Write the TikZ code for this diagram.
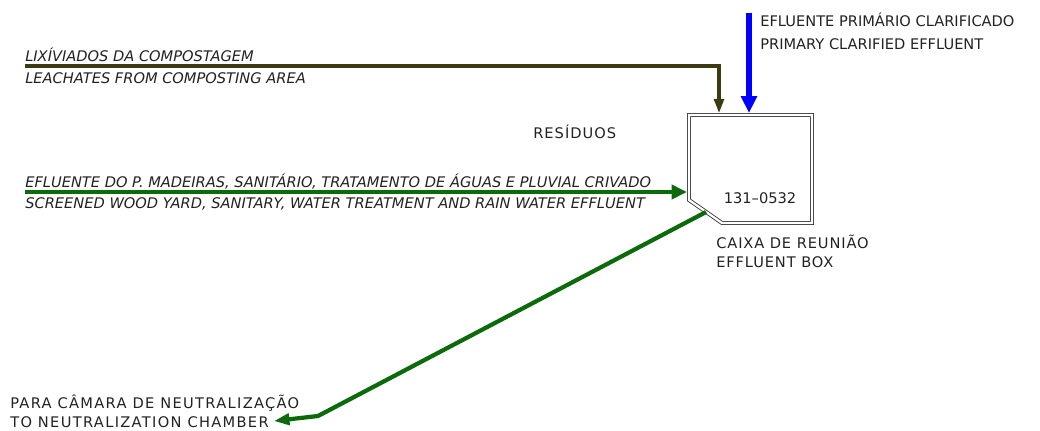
\documentclass[tikz,border=0pt]{standalone}
\usepackage{fontspec}
\setmainfont{DejaVu Sans}
\usetikzlibrary{arrows.meta, positioning, calc}
\definecolor{pipeOlive}{HTML}{3D3A12}
\definecolor{pipeBlue}{HTML}{0000FF}
\definecolor{pipeGreen}{HTML}{0B6B0B}
\definecolor{boxLine}{HTML}{333333}
\definecolor{labelInk}{HTML}{222222}
\begin{document}
\begin{tikzpicture}[x=0.025cm,y=-0.025cm,
  lbl/.style={anchor=west,inner sep=0pt,text=labelInk,font=\fontsize{10.4}{12}\selectfont},
  wlbl/.style={lbl,font=\fontsize{10.4}{12}\selectfont\addfontfeatures{LetterSpace=#1}},
  ilbl/.style={lbl,font=\fontsize{10.4}{12}\selectfont\itshape},
  pipe/.style={line width=#1,line join=miter}]
\useasboundingbox (0,0) rectangle (1040,430);
% effluent box
\draw[boxLine,double=white,double distance=1.6pt,line width=0.6pt]
  (689,115) -- (812,115) -- (812,223) -- (722,223) -- (689,200) -- cycle;
\node[lbl,anchor=center] (boxTag) at (760,198) {131--0532};
\coordinate (boxTopA) at (719,113);
\coordinate (boxTopB) at (749,113);
\coordinate (boxLeft) at (687,192);
\coordinate (boxCorner) at (706,212);
% leachates from composting
\coordinate (leachIn) at (25,66);
\coordinate (leachBend) at (719,66);
\draw[pipeOlive,pipe=2.2pt,-{Triangle[length=10pt,width=7pt]}]
  (leachIn) -- (leachBend) -- (boxTopA);
\node[ilbl] (leachPt) at (25,55) {LIXÍVIADOS DA COMPOSTAGEM};
\node[ilbl] (leachEn) at (25,78) {LEACHATES FROM COMPOSTING AREA};
% primary clarified effluent
\coordinate (primIn) at (749,13);
\draw[pipeBlue,pipe=3.8pt,-{Triangle[length=12pt,width=11pt]}] (primIn) -- (boxTopB);
\node[lbl] (primPt) at (760,20) {EFLUENTE PRIMÁRIO CLARIFICADO};
\node[lbl] (primEn) at (760,44) {PRIMARY CLARIFIED EFFLUENT};
% wood yard and others
\coordinate (woodIn) at (25,192);
\draw[pipeGreen,pipe=3pt,-{Triangle[length=11pt,width=10pt]}] (woodIn) -- (boxLeft);
\node[ilbl] (woodPt) at (25,182) {EFLUENTE DO P. MADEIRAS, SANITÁRIO, TRATAMENTO DE ÁGUAS E PLUVIAL CRIVADO};
\node[ilbl] (woodEn) at (25,204) {SCREENED WOOD YARD, SANITARY, WATER TREATMENT AND RAIN WATER EFFLUENT};
% residues
\node[wlbl=7] (resid) at (533,132) {RESÍDUOS};
% box name
\node[wlbl=6] (boxPt) at (716,242) {CAIXA DE REUNIÃO};
\node[wlbl=6] (boxEn) at (716,262) {EFFLUENT BOX};
% to neutralization chamber
\coordinate (neutBend) at (318,416);
\coordinate (neutOut) at (274,421);
\draw[pipeGreen,pipe=3pt,-{Triangle[length=11pt,width=8pt]}]
  (boxCorner) -- (neutBend) -- (neutOut);
\node[wlbl=9] (neutPt) at (10,403) {PARA CÂMARA DE NEUTRALIZAÇÃO};
\node[wlbl=9] (neutEn) at (10,422) {TO NEUTRALIZATION CHAMBER};
\end{tikzpicture}
\end{document}
